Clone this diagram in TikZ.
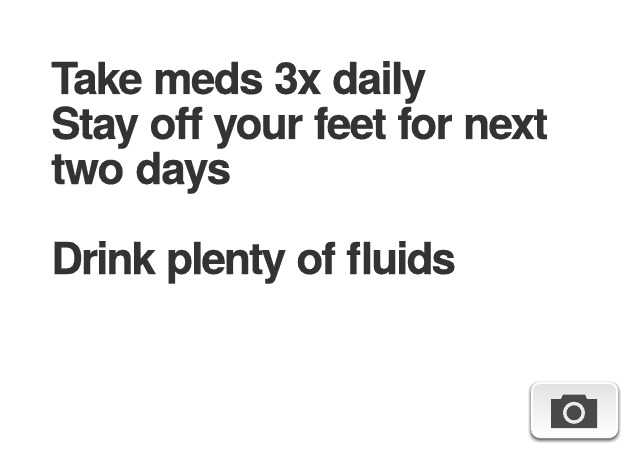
\documentclass[tikz,border=0pt]{standalone}
\usepackage{fontspec}
\setmainfont{TeX Gyre Heros}[LetterSpace=-3.6,BoldFeatures={FakeBold=0.35}]
\newfontfamily\tightfont{TeX Gyre Heros}[LetterSpace=-4.4,BoldFeatures={FakeBold=0.35}]
\newfontfamily\loosefont{TeX Gyre Heros}[LetterSpace=-2.5,BoldFeatures={FakeBold=0.35}]
\usetikzlibrary{calc}
\definecolor{ink}{HTML}{333333}
\definecolor{cam}{HTML}{4A4849}
\tikzset{x=1pt,y=-1pt,
 noteline/.style={anchor=base west,inner sep=0pt,text=ink,font=\fontsize{44}{45}\selectfont\bfseries},
 camerabody/.style={fill=cam,draw=none}}
\begin{document}
\begin{tikzpicture}
\useasboundingbox[fill=white] (0,0) rectangle (640,468);
\node[noteline] (l1) at (51,94) {Take meds 3x daily};
\node[noteline] (l2) at (51,139) {Stay off your feet for next};
\node[noteline,font=\fontsize{44}{45}\loosefont\bfseries] (l3) at (51,184) {two days};
\node[noteline,font=\fontsize{44}{45}\tightfont\bfseries] (l4) at (51,274) {Drink plenty of fluids};
% button shadow
\fill[black,opacity=.07,rounded corners=11] (528,381) rectangle (621,443);
\fill[black,opacity=.12,rounded corners=10] (529,382) rectangle (620,442);
\fill[black,opacity=.18,rounded corners=10] (530,383) rectangle (619,441);
\fill[black,opacity=.25,rounded corners=9] (531,385) rectangle (618,440);
% button
\path[fill=white,rounded corners=9] (531,382) rectangle (618,438);
\shade[top color=black!11,bottom color=white,rounded corners=7] (533,384) rectangle (616,436);
% camera
\path[camerabody] (551,399) -- (561,399) -- (563,394.5) -- (585,394.5) -- (587,399) -- (597,399) -- (597,428) -- (551,428) -- cycle;
\draw[draw=white!92!black,line width=3.4] (574,412.8) circle[radius=9.3];
\end{tikzpicture}
\end{document}
